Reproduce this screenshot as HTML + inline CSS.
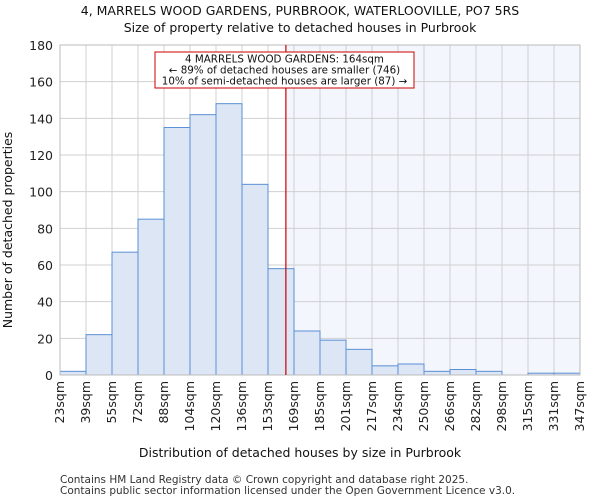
<!DOCTYPE html>
<html><head><meta charset="utf-8"><style>body{margin:0;background:#fff}svg{display:block;font-family:"DejaVu Sans","Liberation Sans",sans-serif}</style></head>
<body>
<svg id="c" width="600" height="500"></svg>
<script>
const binLabels=["23sqm","39sqm","55sqm","72sqm","88sqm","104sqm","120sqm","136sqm","153sqm","169sqm","185sqm","201sqm","217sqm","234sqm","250sqm","266sqm","282sqm","298sqm","315sqm","331sqm","347sqm"];
const binEdges=[23,39,55,72,88,104,120,136,153,169,185,201,217,234,250,266,282,298,315,331,347];
const counts=[2,22,67,85,135,142,148,104,58,24,19,14,5,6,2,3,2,0,1,1];
const yTicks=[0,20,40,60,80,100,120,140,160,180];
const propertySize=164;
const L=60,R=580,T=45,B=375,yMax=180;
const svg=document.getElementById('c');
const NS='http://www.w3.org/2000/svg';
const n=counts.length,bw=(R-L)/n;
const xi=i=>L+i*bw;
const y=v=>B-v/yMax*(B-T);
function xv(v){for(let i=0;i<binEdges.length-1;i++){if(v>=binEdges[i]&&v<=binEdges[i+1])return xi(i)+(v-binEdges[i])/(binEdges[i+1]-binEdges[i])*bw;}return R;}
function mk(t,a,p){const e=document.createElementNS(NS,t);for(const k in a)e.setAttribute(k,a[k]);(p||svg).appendChild(e);return e;}
const px=xv(propertySize);
let e=mk('rect',{x:px,y:T,width:R-px,height:B-T,fill:'#f3f6fd'});

for(let i=0;i<=n;i++){e=mk('line',{x1:xi(i),x2:xi(i),y1:T,y2:B,stroke:'#d0d0d0','stroke-width':1});}
yTicks.forEach(v=>{e=mk('line',{x1:L,x2:R,y1:y(v),y2:y(v),stroke:'#d0d0d0','stroke-width':1});
e=mk('text',{x:L-7,y:y(v)+5,'text-anchor':'end','font-size':12.5,fill:'#222'});e.textContent=v;});
counts.forEach((c,i)=>{e=mk('rect',{x:xi(i),y:y(c),width:bw,height:B-y(c),fill:'#dce6f5',stroke:'#5b8fd6','stroke-width':1});});
binLabels.forEach((t,i)=>{const xx=xi(i)+4;e=mk('text',{x:xx,y:B+6,transform:`rotate(-90 ${xx} ${B+6})`,'text-anchor':'end','font-size':12.5,fill:'#222'});e.textContent=t;});
e=mk('rect',{x:L,y:T,width:R-L,height:B-T,fill:'none',stroke:'#bbb'});
e=mk('line',{x1:px,x2:px,y1:T,y2:B,stroke:'#cc0000','stroke-width':1.2});
const g=mk('g',{});
mk('rect',{x:155,y:52,width:259,height:36,fill:'#fff',stroke:'#cc0000','stroke-width':1},g);
["4 MARRELS WOOD GARDENS: 164sqm","← 89% of detached houses are smaller (746)","10% of semi-detached houses are larger (87) →"].forEach((t,i)=>{const tt=mk('text',{x:284.5,y:62.5+i*11,'text-anchor':'middle','font-size':10.3,fill:'#111'},g);tt.textContent=t;});
e=mk('text',{x:300,y:15,'text-anchor':'middle','font-size':12.5,fill:'#111'});e.textContent='4, MARRELS WOOD GARDENS, PURBROOK, WATERLOOVILLE, PO7 5RS';
e=mk('text',{x:300,y:32,'text-anchor':'middle','font-size':12.5,fill:'#111'});e.textContent='Size of property relative to detached houses in Purbrook';
e=mk('text',{x:300,y:457,'text-anchor':'middle','font-size':12.5,fill:'#111'});e.textContent='Distribution of detached houses by size in Purbrook';
e=mk('text',{x:12,y:230,transform:'rotate(-90 12 230)','text-anchor':'middle','font-size':12.5,fill:'#111'});e.textContent='Number of detached properties';
e=mk('text',{x:60,y:483,'font-size':10.5,fill:'#333'});e.textContent='Contains HM Land Registry data © Crown copyright and database right 2025.';
e=mk('text',{x:60,y:494,'font-size':10.5,fill:'#333'});e.textContent='Contains public sector information licensed under the Open Government Licence v3.0.';
</script>
</body></html>
